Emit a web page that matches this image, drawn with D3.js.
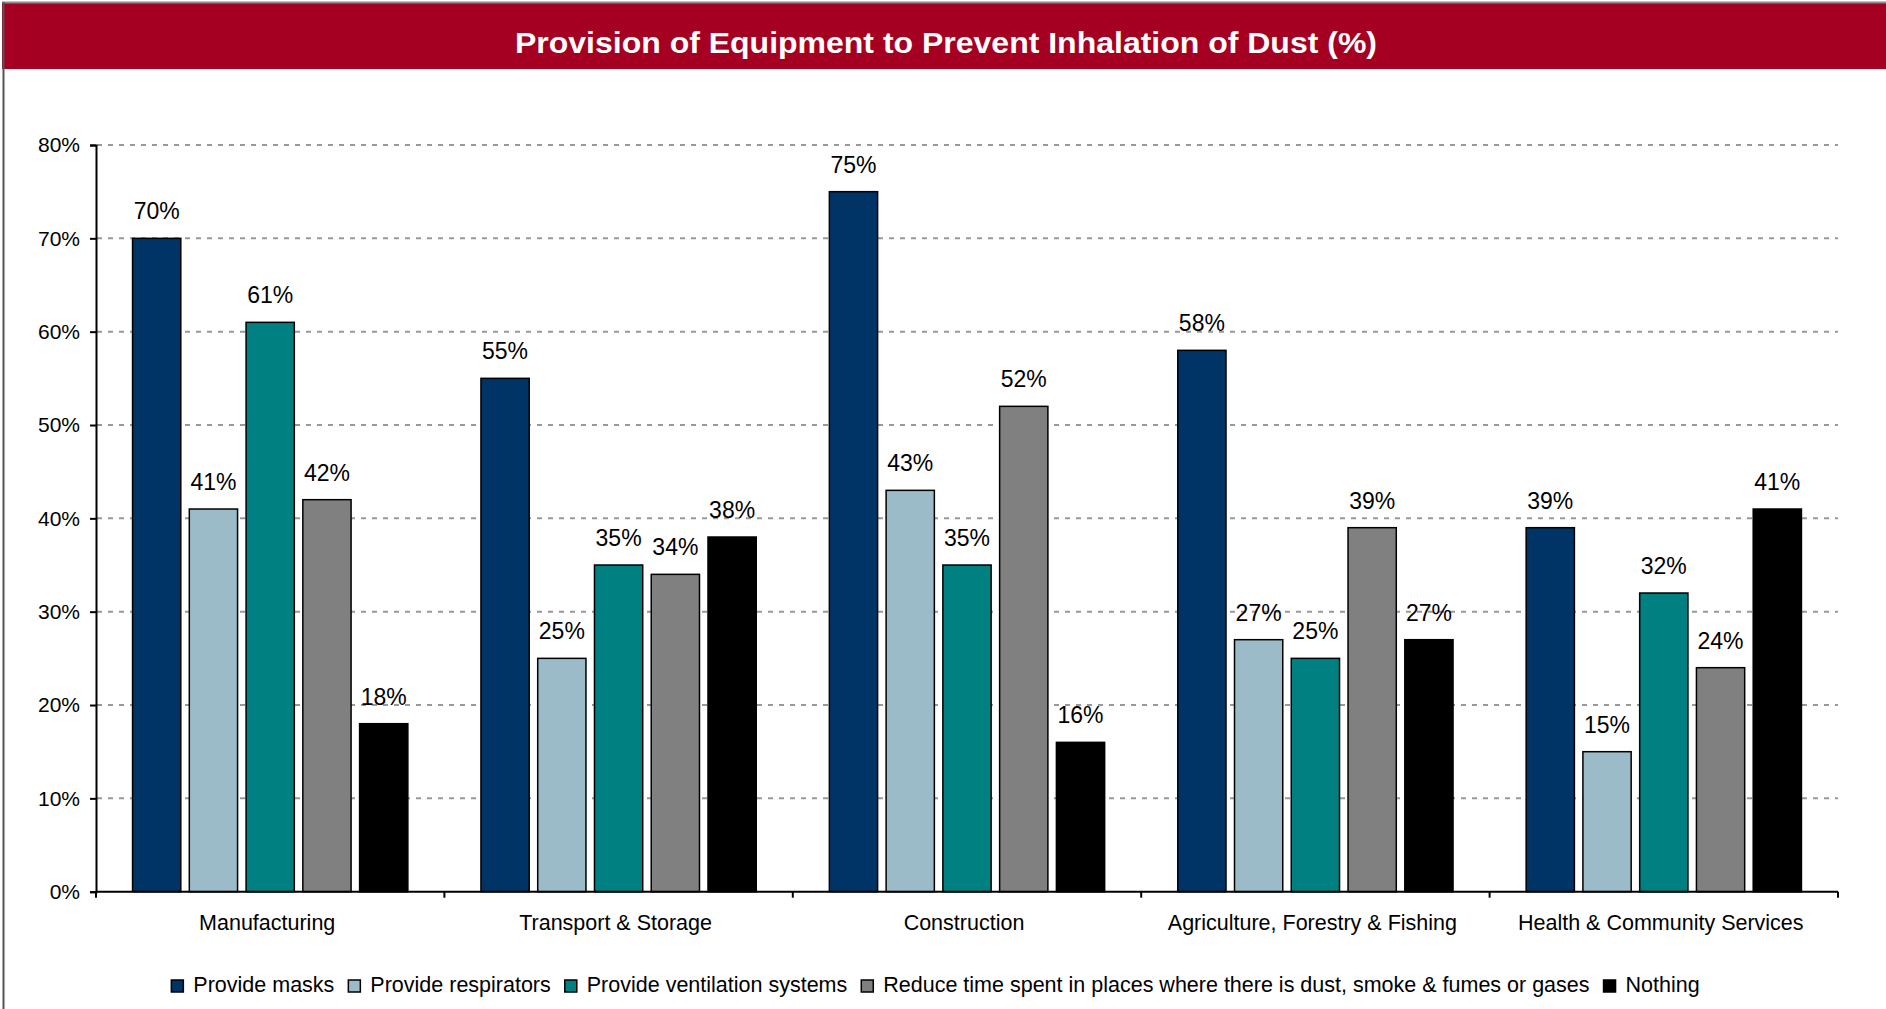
<!DOCTYPE html>
<html>
<head>
<meta charset="utf-8">
<script src="https://cdn.jsdelivr.net/npm/d3@7/dist/d3.min.js"></script>
<style>
  html, body { margin: 0; padding: 0; background: #fff; }
  svg { display: block; font-family: Arial, "Liberation Sans", sans-serif; }
</style>
</head>
<body>
<svg id="chart" width="1886" height="1009"></svg>
<script>
// Industry sectors along the x axis
const categories = [
  "Manufacturing",
  "Transport & Storage",
  "Construction",
  "Agriculture, Forestry & Fishing",
  "Health & Community Services"
];

// Equipment types (one bar per sector each)
const seriesNames = [
  "Provide masks",
  "Provide respirators",
  "Provide ventilation systems",
  "Reduce time spent in places where there is dust, smoke & fumes or gases",
  "Nothing"
];

const seriesColors = ["#003366", "#9BBBC9", "#008080", "#808080", "#000000"];

// Percentages per series, in sector order
const masks       = [70, 55, 75, 58, 39];
const respirators = [41, 25, 43, 27, 15];
const ventilation = [61, 35, 35, 25, 32];
const reduceTime  = [42, 34, 52, 39, 24];
const nothing     = [18, 38, 16, 27, 41];

const seriesValues = [masks, respirators, ventilation, reduceTime, nothing];

const yTicks = [0, 10, 20, 30, 40, 50, 60, 70, 80];

const svg = d3.select("#chart");
const W = 1886, H = 1009;

// Frame and title banner
svg.append("rect").attr("x", 0).attr("y", 0).attr("width", W).attr("height", H).attr("fill", "#fff");
svg.append("rect").attr("x", 2).attr("y", 3).attr("width", W - 2).attr("height", 66).attr("fill", "#A50021");
svg.append("line").attr("x1", 2).attr("x2", W).attr("y1", 2.5).attr("y2", 2.5)
  .attr("stroke", "#8c8c8c").attr("stroke-width", 2);
svg.append("line").attr("x1", 3.5).attr("x2", 3.5).attr("y1", 2).attr("y2", H)
  .attr("stroke", "#555").attr("stroke-width", 2);

svg.append("text")
  .attr("x", 946).attr("y", 53)
  .attr("text-anchor", "middle")
  .attr("fill", "#fff")
  .attr("font-weight", "bold")
  .attr("font-size", 29)
  .attr("textLength", 862)
  .attr("lengthAdjust", "spacingAndGlyphs")
  .text("Provision of Equipment to Prevent Inhalation of Dust (%)");

// Scales
const plotLeft = 96, plotRight = 1838, plotTop = 145, plotBottom = 891.7;

const x0 = d3.scaleBand().domain(categories).range([plotLeft, plotRight]).padding(0);
const x1 = d3.scaleBand().domain(d3.range(seriesNames.length))
  .range([0, x0.bandwidth()]).paddingInner(0.15).paddingOuter(0.644);
const y = d3.scaleLinear().domain([0, 80]).range([plotBottom, plotTop]);

// Gridlines
svg.append("g")
  .selectAll("line")
  .data(yTicks.filter(t => t > 0))
  .join("line")
  .attr("x1", plotLeft + 1).attr("x2", plotRight)
  .attr("y1", d => y(d)).attr("y2", d => y(d))
  .attr("stroke", "#999").attr("stroke-width", 2)
  .attr("stroke-dasharray", "5,6");

// Y axis
const yAxis = d3.axisLeft(y).tickValues(yTicks).tickFormat(d => d + "%").tickSize(6).tickPadding(10);
const gy = svg.append("g").attr("transform", `translate(${plotLeft},0)`).call(yAxis);
gy.select(".domain").attr("stroke", "#000").attr("stroke-width", 2);
gy.selectAll(".tick line").attr("stroke", "#000").attr("stroke-width", 2);
gy.selectAll(".tick text").attr("font-size", 21).attr("fill", "#000")
  .attr("font-family", "Arial, 'Liberation Sans', sans-serif");

// Bars
const groups = svg.append("g")
  .selectAll("g")
  .data(categories)
  .join("g")
  .attr("transform", d => `translate(${x0(d)},0)`);

groups.each(function(cat, ci) {
  const g = d3.select(this);
  const vals = seriesValues.map((s, si) => ({ si, v: s[ci] }));
  g.selectAll("rect")
    .data(vals)
    .join("rect")
    .attr("x", d => x1(d.si))
    .attr("width", x1.bandwidth())
    .attr("y", d => y(d.v))
    .attr("height", d => y(0) - y(d.v))
    .attr("fill", d => seriesColors[d.si])
    .attr("stroke", "#000")
    .attr("stroke-width", 1.5);
  g.selectAll("text")
    .data(vals)
    .join("text")
    .attr("x", d => x1(d.si) + x1.bandwidth() / 2)
    .attr("y", d => y(d.v) - 19)
    .attr("text-anchor", "middle")
    .attr("font-size", 23)
    .attr("fill", "#000")
    .text(d => d.v + "%");
});

// X axis
svg.append("line")
  .attr("x1", plotLeft).attr("x2", plotRight)
  .attr("y1", plotBottom).attr("y2", plotBottom)
  .attr("stroke", "#000").attr("stroke-width", 2);

const boundaries = categories.map(c => x0(c)).concat([plotRight]);
svg.append("g").selectAll("line")
  .data(boundaries)
  .join("line")
  .attr("x1", d => d).attr("x2", d => d)
  .attr("y1", plotBottom).attr("y2", plotBottom + 6)
  .attr("stroke", "#000").attr("stroke-width", 2);

svg.append("g").selectAll("text")
  .data(categories)
  .join("text")
  .attr("x", d => x0(d) + x0.bandwidth() / 2 - 3)
  .attr("y", 930)
  .attr("text-anchor", "middle")
  .attr("font-size", 21.5)
  .attr("fill", "#000")
  .text(d => d);

// Legend, centred below the axis
const legend = svg.append("g");
const items = legend.selectAll("g")
  .data(seriesNames)
  .join("g");
items.append("rect")
  .attr("width", 12).attr("height", 12)
  .attr("y", -12)
  .attr("fill", (d, i) => seriesColors[i])
  .attr("stroke", "#000").attr("stroke-width", 1.5);
items.append("text")
  .attr("x", 22)
  .attr("y", 0)
  .attr("font-size", 21.5)
  .attr("fill", "#000")
  .text(d => d);

let cx = 0;
items.each(function() {
  const g = d3.select(this);
  g.attr("transform", `translate(${cx},0)`);
  cx += 22 + g.select("text").node().getComputedTextLength() + 14;
});
const totalW = cx - 14;
legend.attr("transform", `translate(${935 - totalW / 2 + 0.5},992)`);
</script>
</body>
</html>
